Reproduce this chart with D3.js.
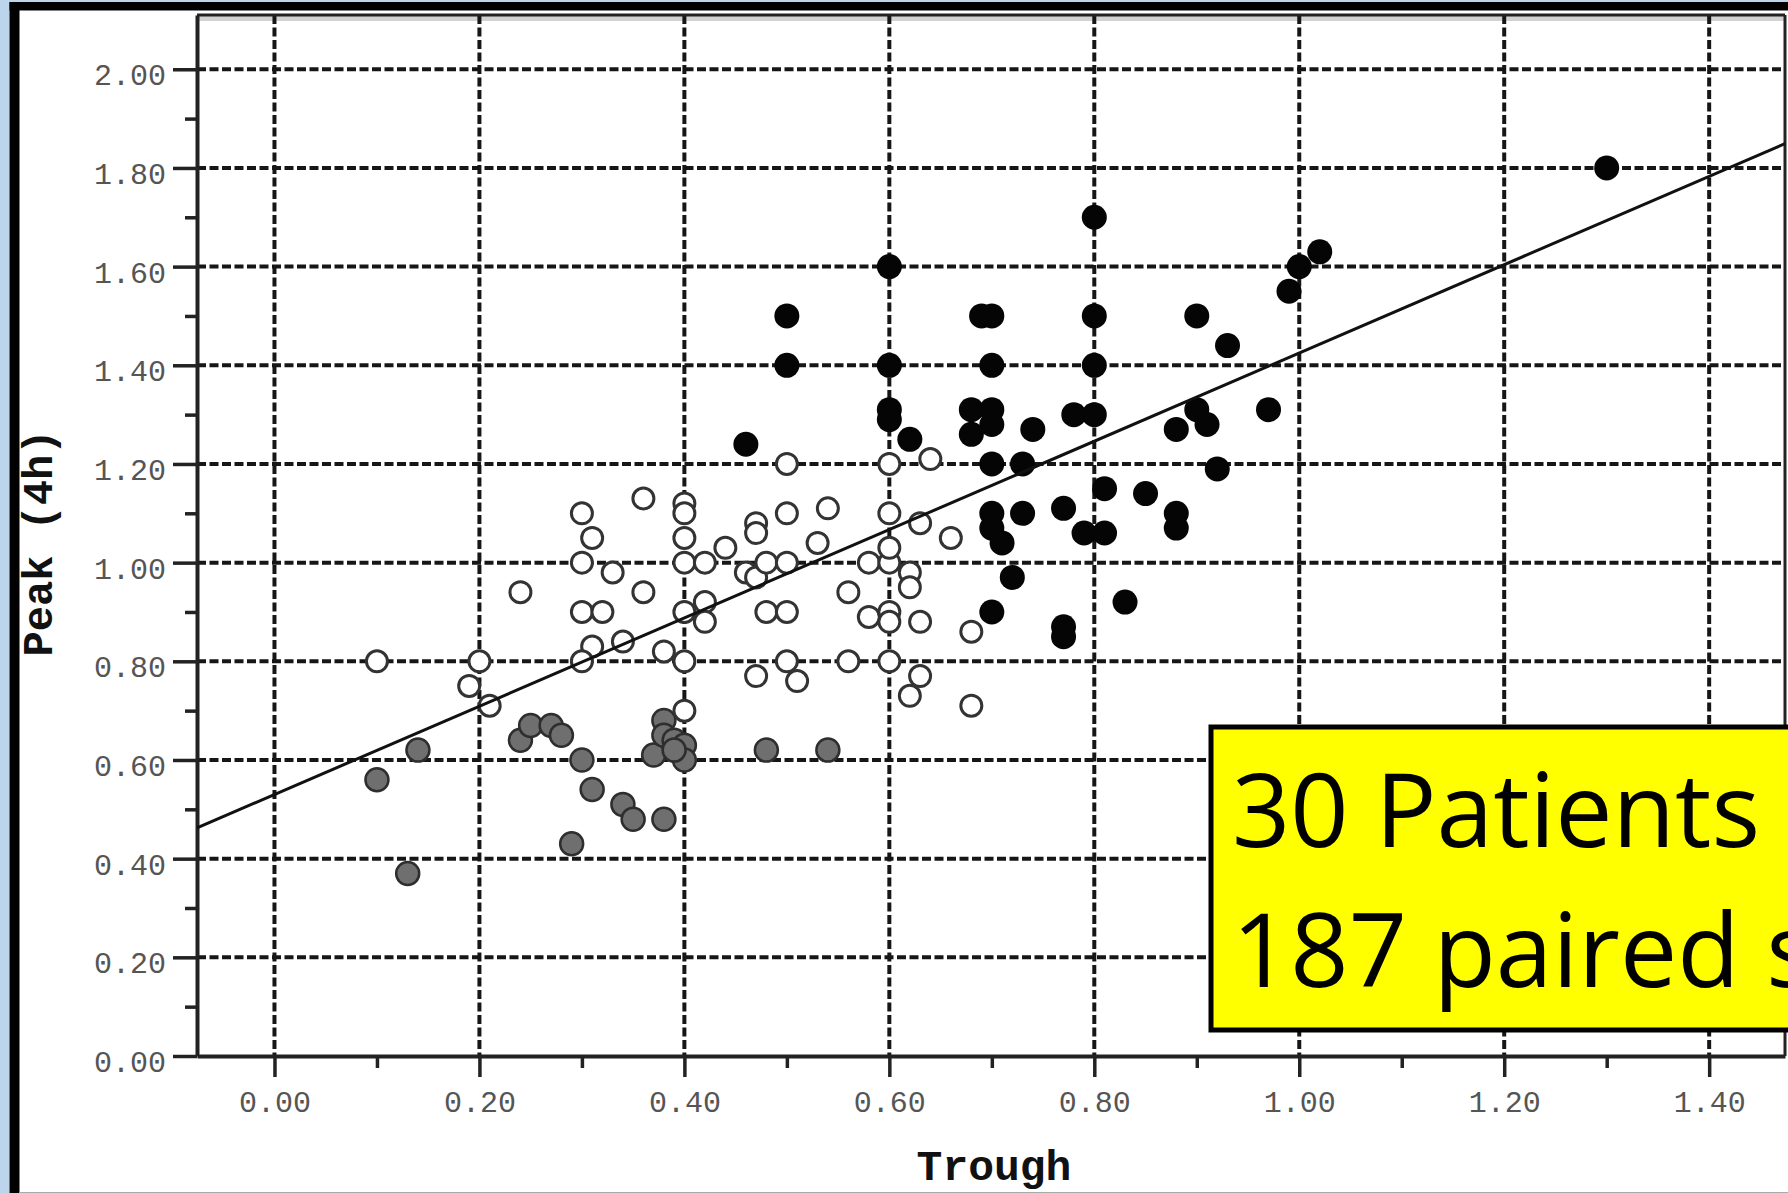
<!DOCTYPE html>
<html>
<head>
<meta charset="utf-8">
<script src="https://cdn.jsdelivr.net/npm/d3@7"></script>
<style>
  html, body { margin: 0; padding: 0; background: #fff; overflow: hidden; }
  svg { display: block; }
</style>
</head>
<body>
<div id="chart"></div>
<script>
// trough vs peak (4h)
var filledPts = [
  [1.30, 1.80], [0.80, 1.70], [0.60, 1.60], [1.02, 1.63], [1.00, 1.60], [0.99, 1.55],
  [0.50, 1.50], [0.69, 1.50], [0.70, 1.50], [0.80, 1.50], [0.90, 1.50], [0.93, 1.44],
  [0.50, 1.40], [0.60, 1.40], [0.70, 1.40], [0.80, 1.40],
  [0.60, 1.31], [0.60, 1.29], [0.62, 1.25], [0.46, 1.24],
  [0.68, 1.31], [0.70, 1.31], [0.68, 1.26], [0.70, 1.28], [0.74, 1.27],
  [0.78, 1.30], [0.80, 1.30], [0.88, 1.27], [0.90, 1.31], [0.91, 1.28], [0.97, 1.31],
  [0.70, 1.20], [0.73, 1.20], [0.92, 1.19], [0.81, 1.15], [0.85, 1.14],
  [0.70, 1.10], [0.70, 1.07], [0.71, 1.04], [0.73, 1.10], [0.77, 1.11],
  [0.79, 1.06], [0.81, 1.06], [0.88, 1.10], [0.88, 1.07],
  [0.72, 0.97], [0.70, 0.90], [0.83, 0.92], [0.77, 0.87], [0.77, 0.85]
];

var openPts = [
  [0.10, 0.80], [0.19, 0.75], [0.20, 0.80], [0.21, 0.71], [0.24, 0.94],
  [0.30, 1.10], [0.31, 1.05], [0.30, 1.00], [0.33, 0.98], [0.30, 0.90], [0.32, 0.90],
  [0.31, 0.83], [0.30, 0.80], [0.34, 0.84], [0.36, 1.13], [0.36, 0.94], [0.38, 0.82],
  [0.40, 1.12], [0.40, 1.10], [0.40, 1.05], [0.40, 1.00], [0.40, 0.90], [0.40, 0.80], [0.40, 0.70],
  [0.42, 1.00], [0.42, 0.92], [0.42, 0.88], [0.44, 1.03], [0.46, 0.98], [0.47, 0.97],
  [0.47, 1.08], [0.47, 1.06], [0.48, 1.00], [0.50, 1.00], [0.48, 0.90], [0.50, 0.90],
  [0.50, 1.10], [0.50, 1.20], [0.53, 1.04], [0.54, 1.11],
  [0.47, 0.77], [0.50, 0.80], [0.51, 0.76], [0.56, 0.94], [0.56, 0.80],
  [0.58, 1.00], [0.60, 1.00], [0.60, 1.03], [0.58, 0.89], [0.60, 0.90], [0.60, 0.88], [0.60, 0.80],
  [0.60, 1.10], [0.60, 1.20], [0.64, 1.21], [0.63, 1.08], [0.66, 1.05],
  [0.62, 0.98], [0.62, 0.95], [0.63, 0.88], [0.63, 0.77], [0.62, 0.73],
  [0.68, 0.86], [0.68, 0.71]
];

var grayPts = [
  [0.10, 0.56], [0.13, 0.37], [0.14, 0.62], [0.24, 0.64], [0.25, 0.67], [0.27, 0.67],
  [0.28, 0.65], [0.30, 0.60], [0.31, 0.54], [0.29, 0.43], [0.34, 0.51], [0.35, 0.48],
  [0.38, 0.48], [0.37, 0.61], [0.38, 0.68], [0.38, 0.65], [0.39, 0.64], [0.40, 0.63],
  [0.40, 0.60], [0.39, 0.62], [0.48, 0.62], [0.54, 0.62]
];

var xTicks = [0, 0.2, 0.4, 0.6, 0.8, 1.0, 1.2, 1.4];
var xMinor = [0.1, 0.3, 0.5, 0.7, 0.9, 1.1, 1.3];
var yTicks = [0, 0.2, 0.4, 0.6, 0.8, 1.0, 1.2, 1.4, 1.6, 1.8, 2.0];
var yMinor = [0.1, 0.3, 0.5, 0.7, 0.9, 1.1, 1.3, 1.5, 1.7, 1.9];
var fitLine = [0.53, 0.895]; // intercept, slope
var noteLines = ["30 Patients", "187 paired samples"];

var width = 1788,
    height = 1193;
// note: "top" is taken by window.top, so plot edges get their own names
var pL = 197, pR = 1785, pT = 15, pB = 1056;

var svg = d3.select("#chart").append("svg")
    .attr("width", width)
    .attr("height", height);

// slide frame
svg.append("rect").attr("width", width).attr("height", height).attr("fill", "#fff");
svg.append("rect").attr("x", 0).attr("y", 0).attr("width", 9.5).attr("height", height).attr("fill", "#bcd5ec");
svg.append("rect").attr("x", 0).attr("y", 0).attr("width", width).attr("height", 2).attr("fill", "#bcd5ec");
svg.append("rect").attr("x", 9.5).attr("y", 2).attr("width", 10).attr("height", height).attr("fill", "#000");
svg.append("rect").attr("x", 9.5).attr("y", 2).attr("width", width).attr("height", 8.5).attr("fill", "#000");
svg.append("line").attr("x1", 19).attr("x2", width).attr("y1", 1192.5).attr("y2", 1192.5)
    .attr("stroke", "#aaa").attr("stroke-width", 1);

var x = d3.scaleLinear().domain([-0.0756, 1.474]).range([pL, pR]);
var y = d3.scaleLinear().domain([0, 2.11]).range([pB, pT]);

svg.append("clipPath").attr("id", "plotClip")
  .append("rect").attr("x", pL).attr("y", pT).attr("width", pR - pL).attr("height", pB - pT);

// light band under the top border
svg.append("rect").attr("x", pL).attr("y", pT + 1).attr("width", pR - pL).attr("height", 5).attr("fill", "#d2d2d2");

// grid
var grid = svg.append("g").attr("stroke", "#161616").attr("stroke-width", 4).attr("stroke-dasharray", "9,3.5");
grid.selectAll(".hg").data(yTicks.filter(function(d) { return d > 0; })).enter()
  .append("line")
    .attr("x1", pL).attr("x2", pR)
    .attr("y1", function(d) { return y(d); })
    .attr("y2", function(d) { return y(d); });
grid.selectAll(".vg").data(xTicks).enter()
  .append("line")
    .attr("y1", pT).attr("y2", pB)
    .attr("x1", function(d) { return x(d); })
    .attr("x2", function(d) { return x(d); });

// frame top / right
svg.append("line").attr("x1", pL).attr("x2", pR).attr("y1", pT).attr("y2", pT)
    .attr("stroke", "#222").attr("stroke-width", 3);
svg.append("line").attr("x1", pR).attr("x2", pR).attr("y1", pT).attr("y2", pB)
    .attr("stroke", "#222").attr("stroke-width", 3);

// axes
var fmt = d3.format(".2f");
var yAxis = svg.append("g").attr("transform", "translate(" + pL + ",0)")
    .call(d3.axisLeft(y).tickValues(yTicks).tickFormat(fmt).tickSize(24).tickSizeOuter(0).tickPadding(7));
svg.append("g").attr("transform", "translate(" + pL + ",0)")
    .call(d3.axisLeft(y).tickValues(yMinor).tickFormat("").tickSize(12).tickSizeOuter(0))
    .select(".domain").remove();
var xAxis = svg.append("g").attr("transform", "translate(0," + pB + ")")
    .call(d3.axisBottom(x).tickValues(xTicks).tickFormat(fmt).tickSize(21).tickSizeOuter(0).tickPadding(14));
svg.append("g").attr("transform", "translate(0," + pB + ")")
    .call(d3.axisBottom(x).tickValues(xMinor).tickFormat("").tickSize(12).tickSizeOuter(0))
    .select(".domain").remove();

svg.selectAll(".domain").attr("stroke", "#222").attr("stroke-width", 4);
svg.selectAll(".tick line").attr("stroke", "#222").attr("stroke-width", 3.5);
svg.selectAll(".tick text")
    .attr("font-family", "'Courier New', 'Liberation Mono', monospace")
    .attr("font-size", 30)
    .attr("fill", "#555");
yAxis.selectAll(".tick text").attr("transform", "translate(0,6)");

// axis titles
svg.append("text")
    .attr("x", 994).attr("y", 1180)
    .attr("text-anchor", "middle")
    .attr("font-family", "'Courier New', 'Liberation Mono', monospace")
    .attr("font-weight", "bold")
    .attr("font-size", 43)
    .attr("fill", "#111")
    .text("Trough");
svg.append("text")
    .attr("transform", "translate(52,543) rotate(-90)")
    .attr("text-anchor", "middle")
    .attr("font-family", "'Courier New', 'Liberation Mono', monospace")
    .attr("font-weight", "bold")
    .attr("font-size", 42)
    .attr("fill", "#111")
    .text("Peak (4h)");

// points
var pts = svg.append("g").attr("clip-path", "url(#plotClip)");
pts.selectAll(".gray").data(grayPts).enter()
  .append("circle")
    .attr("cx", function(d) { return x(d[0]); })
    .attr("cy", function(d) { return y(d[1]); })
    .attr("r", 11.5)
    .attr("fill", "#6f6f6f")
    .attr("stroke", "#2e2e2e")
    .attr("stroke-width", 2.5);
pts.selectAll(".open").data(openPts).enter()
  .append("circle")
    .attr("cx", function(d) { return x(d[0]); })
    .attr("cy", function(d) { return y(d[1]); })
    .attr("r", 10.5)
    .attr("fill", "#fff")
    .attr("stroke", "#333")
    .attr("stroke-width", 3);
pts.selectAll(".filled").data(filledPts).enter()
  .append("circle")
    .attr("cx", function(d) { return x(d[0]); })
    .attr("cy", function(d) { return y(d[1]); })
    .attr("r", 12.5)
    .attr("fill", "#050505");

// regression line
var fx = x.domain();
pts.append("line")
    .attr("x1", x(fx[0])).attr("y1", y(fitLine[0] + fitLine[1] * fx[0]))
    .attr("x2", x(fx[1] + 0.05)).attr("y2", y(fitLine[0] + fitLine[1] * (fx[1] + 0.05)))
    .attr("stroke", "#111")
    .attr("stroke-width", 3);

// note box
var note = svg.append("g");
note.append("rect")
    .attr("x", 1211).attr("y", 727)
    .attr("width", 700).attr("height", 303)
    .attr("fill", "#ffff00")
    .attr("stroke", "#000")
    .attr("stroke-width", 5);
note.selectAll("text").data(noteLines).enter()
  .append("text")
    .attr("x", 1232)
    .attr("y", function(d, i) { return 847 + i * 140; })
    .attr("font-family", "'Open Sans', 'Noto Sans', sans-serif")
    .attr("font-size", 102)
    .attr("fill", "#000")
    .text(function(d) { return d; });
</script>
</body>
</html>
